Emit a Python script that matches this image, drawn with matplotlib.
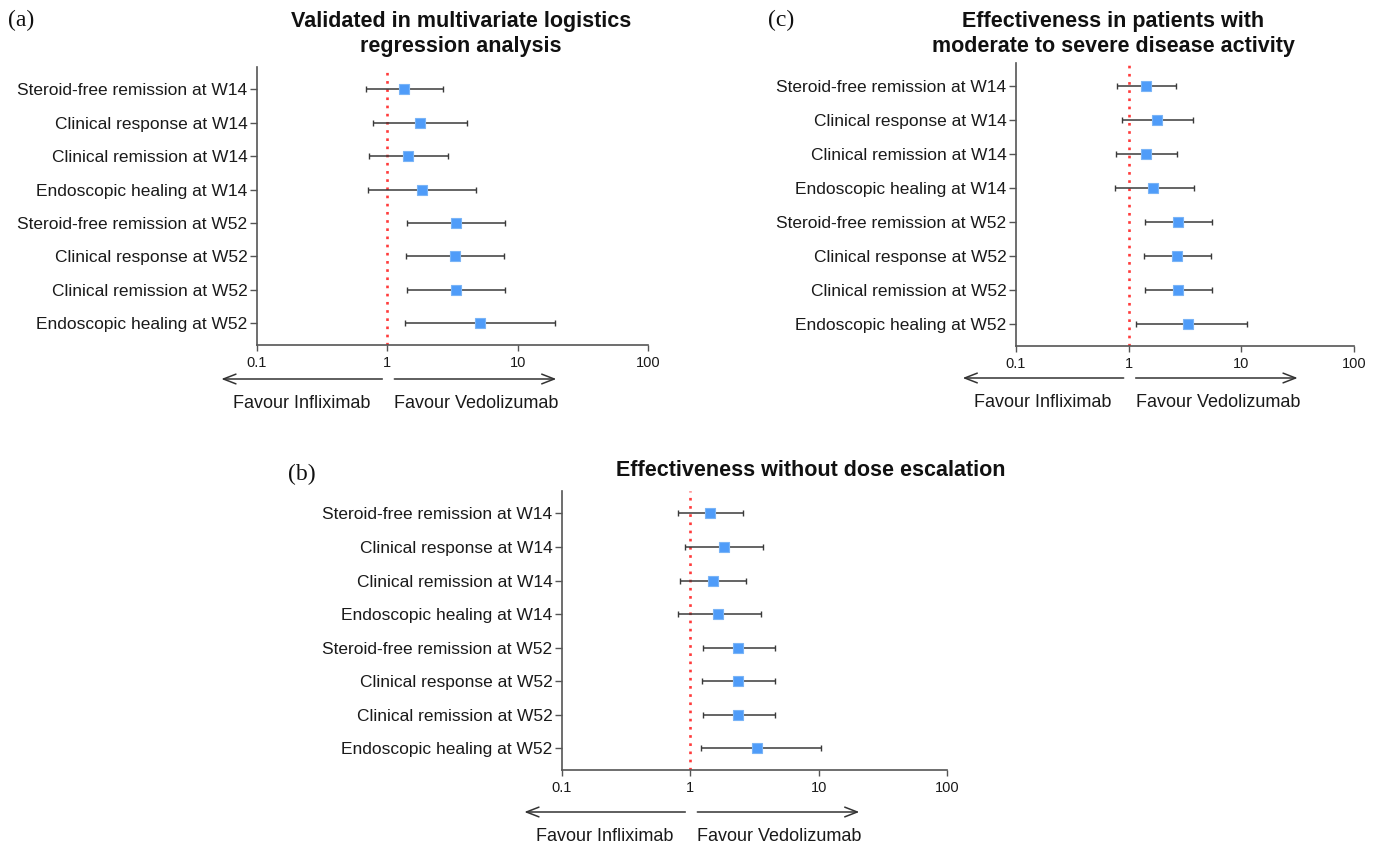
import matplotlib
matplotlib.use("Agg")
import matplotlib.pyplot as plt
import numpy as np
from matplotlib.transforms import offset_copy

# outcomes, top to bottom
outcomes = [
    "Steroid-free remission at W14",
    "Clinical response at W14",
    "Clinical remission at W14",
    "Endoscopic healing at W14",
    "Steroid-free remission at W52",
    "Clinical response at W52",
    "Clinical remission at W52",
    "Endoscopic healing at W52",
]
xticks = [0.1, 1, 10, 100]
xtick_labels = ["0.1", "1", "10", "100"]

# (a) multivariate logistic regression
a_or = np.array([1.35, 1.77, 1.45, 1.83, 3.34, 3.28, 3.34, 5.13])
a_lo = np.array([0.68, 0.78, 0.72, 0.71, 1.41, 1.38, 1.41, 1.36])
a_hi = np.array([2.68, 4.07, 2.93, 4.75, 7.94, 7.80, 7.94, 19.5])

# (b) without dose escalation
b_or = np.array([1.42, 1.82, 1.50, 1.65, 2.36, 2.34, 2.36, 3.31])
b_lo = np.array([0.80, 0.91, 0.83, 0.80, 1.25, 1.23, 1.25, 1.21])
b_hi = np.array([2.56, 3.66, 2.72, 3.53, 4.59, 4.54, 4.59, 10.4])

# (c) moderate to severe disease activity
c_or = np.array([1.43, 1.78, 1.42, 1.65, 2.74, 2.70, 2.74, 3.38])
c_lo = np.array([0.78, 0.87, 0.77, 0.76, 1.39, 1.37, 1.39, 1.16])
c_hi = np.array([2.63, 3.74, 2.66, 3.77, 5.47, 5.43, 5.47, 11.3])

plt.rcParams['font.family'] = ['Liberation Sans', 'DejaVu Sans']

W, H = 1378, 847
fig = plt.figure(figsize=(W / 100, H / 100), dpi=100)


def px_axes(left, top, right, bottom):
    return fig.add_axes([left / W, 1 - bottom / H, (right - left) / W, (bottom - top) / H])


def forest(ax, odds, lo, hi, arrow_dy, text_dy):
    y = np.arange(1, len(outcomes) + 1)
    ax.axvline(1, color='#ff3b3b', lw=1.9, ls=(0, (1, 2.1)), zorder=1)
    ax.errorbar(odds, y, xerr=[odds - lo, hi - odds], fmt='none',
                ecolor='#3a3a3a', elinewidth=1.1, capsize=2, capthick=1.0, zorder=2)
    ax.plot(odds, y, 's', ms=7, color='#4f9cf9', mec='#79b4f7', mew=0.8, zorder=3)
    ax.set_xscale('log')
    ax.set_xlim(0.1, 100)
    ax.set_ylim(8.65, 0.33)
    ax.set_xticks(xticks)
    ax.set_xticklabels(xtick_labels)
    ax.minorticks_off()
    ax.set_yticks(y)
    ax.set_yticklabels(outcomes)
    for s in ['top', 'right']:
        ax.spines[s].set_visible(False)
    for s in ['left', 'bottom']:
        ax.spines[s].set_color('#555555')
        ax.spines[s].set_linewidth(1.2)
    ax.tick_params(axis='y', length=5, width=1, color='#555555', labelsize=12.5,
                   labelcolor='#1a1a1a', pad=2)
    ax.tick_params(axis='x', length=4, width=1, color='#555555', labelsize=10.5,
                   labelcolor='#1a1a1a', pad=4)

    base = ax.get_xaxis_transform()
    arrow = dict(arrowstyle='->,head_length=0.9,head_width=0.35', color='#333333',
                 lw=1.1, mutation_scale=10, shrinkA=0, shrinkB=0)
    ax.annotate('', xy=(1, 0), xycoords=offset_copy(base, fig=fig, x=-166, y=-arrow_dy, units='dots'),
                xytext=(1, 0), textcoords=offset_copy(base, fig=fig, x=-5, y=-arrow_dy, units='dots'),
                arrowprops=arrow, annotation_clip=False)
    ax.annotate('', xy=(1, 0), xycoords=offset_copy(base, fig=fig, x=169, y=-arrow_dy, units='dots'),
                xytext=(1, 0), textcoords=offset_copy(base, fig=fig, x=7, y=-arrow_dy, units='dots'),
                arrowprops=arrow, annotation_clip=False)
    ax.text(1, 0, 'Favour Infliximab', transform=offset_copy(base, fig=fig, x=-17, y=-text_dy, units='dots'),
            ha='right', va='center', fontsize=13, color='#1a1a1a', clip_on=False)
    ax.text(1, 0, 'Favour Vedolizumab', transform=offset_copy(base, fig=fig, x=7, y=-text_dy, units='dots'),
            ha='left', va='center', fontsize=13, color='#1a1a1a', clip_on=False)


ax_a = px_axes(257, 67, 648, 345)
forest(ax_a, a_or, a_lo, a_hi, 34, 58)

ax_c = px_axes(1016, 63, 1354, 346)
forest(ax_c, c_or, c_lo, c_hi, 32, 56)

ax_b = px_axes(562, 491, 947, 770)
forest(ax_b, b_or, b_lo, b_hi, 42, 66)

# titles
title_kw = dict(fontsize=15.5, fontweight='bold', ha='center', va='center', color='#111111')
fig.text(461 / W, 1 - 34 / H, 'Validated in multivariate logistics\nregression analysis', **title_kw)
fig.text(1113 / W, 1 - 34 / H, 'Effectiveness in patients with\nmoderate to severe disease activity', **title_kw)
fig.text(811 / W, 1 - 470 / H, 'Effectiveness without dose escalation', **title_kw)

# panel labels
lab_kw = dict(fontsize=17, family='Liberation Serif', ha='left', va='center', color='#111111')
fig.text(8 / W, 1 - 20 / H, '(a)', **lab_kw)
fig.text(768 / W, 1 - 20 / H, '(c)', **lab_kw)
fig.text(288 / W, 1 - 474 / H, '(b)', **lab_kw)

fig.savefig('out.png', dpi=100)
